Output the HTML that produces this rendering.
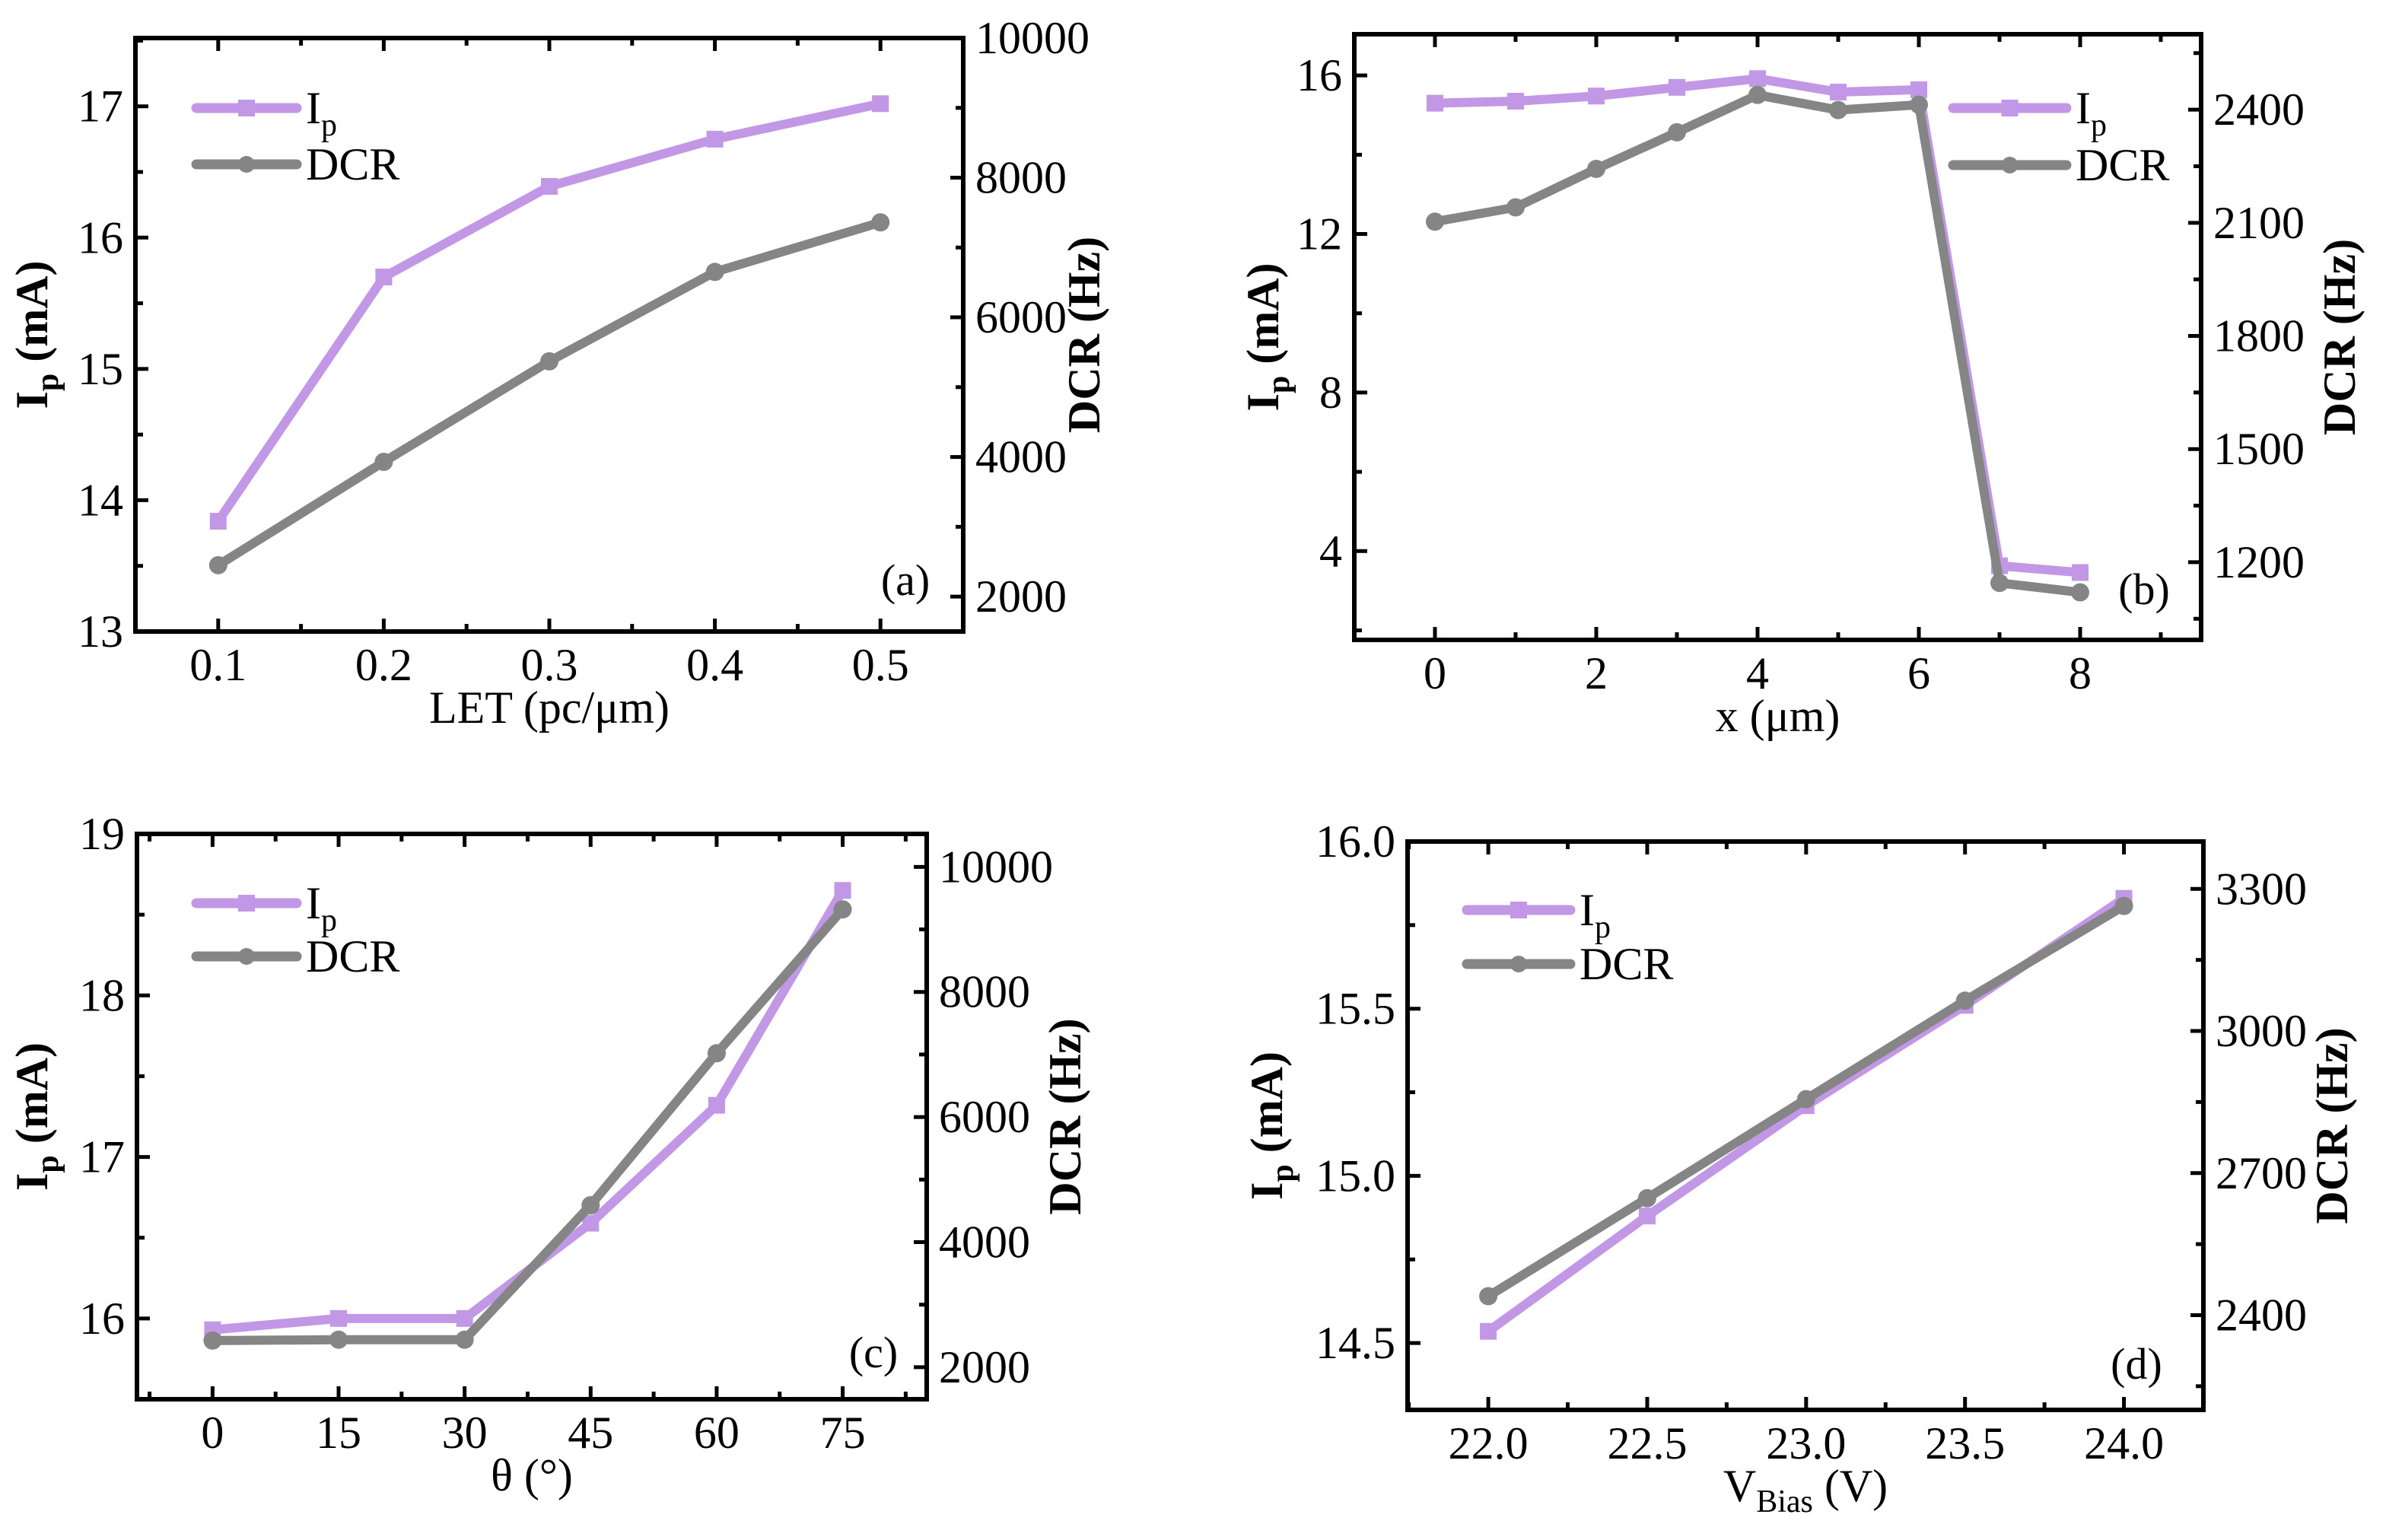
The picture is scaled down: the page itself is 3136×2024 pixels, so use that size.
<!DOCTYPE html>
<html><head><meta charset="utf-8">
<style>
html,body{margin:0;padding:0;background:#fff;}
svg{display:block;font-family:"Liberation Serif","Times New Roman",serif;}
svg text{font-family:"Liberation Serif","Times New Roman",serif;fill:#000;}
</style></head>
<body>
<svg id="fig" width="3136" height="2024" viewBox="0 0 3136 2024" font-family="Liberation Serif, serif" xmlns="http://www.w3.org/2000/svg"></svg>
<script>
// Panel (a)
const aX = [0.1, 0.2, 0.3, 0.4, 0.5];
const aIp = [13.84, 15.70, 16.39, 16.75, 17.02];
const aDCR = [2450, 3930, 5370, 6650, 7360];
const aXTicks = ["0.1","0.2","0.3","0.4","0.5"];
const aLTicks = ["13","14","15","16","17"];
const aRTicks = ["2000","4000","6000","8000","10000"];
// Panel (b)
const bX = [0, 1, 2, 3, 4, 5, 6, 7, 8];
const bIp = [15.30, 15.35, 15.48, 15.70, 15.92, 15.58, 15.64, 3.63, 3.46];
const bDCR = [2103, 2141, 2243, 2340, 2439, 2399, 2413, 1145, 1120];
const bXTicks = ["0","2","4","6","8"];
const bLTicks = ["4","8","12","16"];
const bRTicks = ["1200","1500","1800","2100","2400"];
// Panel (c)
const cX = [0, 15, 30, 45, 60, 75];
const cIp = [15.93, 16.00, 16.00, 16.59, 17.32, 18.65];
const cDCR = [2426, 2440, 2440, 4590, 7020, 9320];
const cXTicks = ["0","15","30","45","60","75"];
const cLTicks = ["16","17","18","19"];
const cRTicks = ["2000","4000","6000","8000","10000"];
// Panel (d)
const dX = [22.0, 22.5, 23.0, 23.5, 24.0];
const dIp = [14.535, 14.88, 15.21, 15.51, 15.83];
const dDCR = [2440, 2647, 2856, 3064, 3264];
const dXTicks = ["22.0","22.5","23.0","23.5","24.0"];
const dLTicks = ["14.5","15.0","15.5","16.0"];
const dRTicks = ["2400","2700","3000","3300"];

const NS = "http://www.w3.org/2000/svg";
const svg = document.getElementById('fig');
const PURPLE = "#c297e6", GRAY = "#858585";
const FF = "Liberation Serif, Times New Roman, serif";

function mk(tag, attrs, parent){
  const e = document.createElementNS(NS, tag);
  for (const k in attrs) e.setAttribute(k, attrs[k]);
  if (tag === 'text') e.setAttribute('font-family', FF);
  (parent||svg).appendChild(e);
  return e;
}

function panel(cfg){
  const g = mk('g', {});
  
  
  const L=cfg.box[0], T=cfg.box[1], R=cfg.box[2], B=cfg.box[3];
  const sx = v => L + (v - cfg.xr[0]) / (cfg.xr[1]-cfg.xr[0]) * (R-L);
  const syL = v => B - (v - cfg.yl[0]) / (cfg.yl[1]-cfg.yl[0]) * (B-T);
  const syR = v => B - (v - cfg.yr[0]) / (cfg.yr[1]-cfg.yr[0]) * (B-T);
  const tk = {stroke:'#000','stroke-width':5};
  for (let v = cfg.xMinor0; v <= cfg.xr[1]+1e-9; v += cfg.xMinor){
    if (v < cfg.xr[0]) continue;
    const isMaj = cfg.xTicks.some(t => Math.abs(parseFloat(t)-v) < 1e-6);
    const len = isMaj ? 17 : 10;
    const x = sx(v);
    mk('line', Object.assign({x1:x,x2:x,y1:B,y2:B-len}, tk), g);
    mk('line', Object.assign({x1:x,x2:x,y1:T,y2:T+len}, tk), g);
  }
  for (let v = cfg.ylMinor0; v <= cfg.yl[1]+1e-9; v += cfg.ylMinor){
    if (v < cfg.yl[0]) continue;
    const isMaj = cfg.lTicks.some(t => Math.abs(parseFloat(t)-v) < 1e-6);
    const len = isMaj ? 17 : 10; const y = syL(v);
    mk('line', Object.assign({x1:L,x2:L+len,y1:y,y2:y}, tk), g);
  }
  for (let v = cfg.yrMinor0; v <= cfg.yr[1]+1e-9; v += cfg.yrMinor){
    if (v < cfg.yr[0]) continue;
    const isMaj = cfg.rTicks.some(t => Math.abs(parseFloat(t)-v) < 1e-6);
    const len = isMaj ? 17 : 10; const y = syR(v);
    mk('line', Object.assign({x1:R,x2:R-len,y1:y,y2:y}, tk), g);
  }
  const frame = mk('rect', {x:L,y:T,width:R-L,height:B-T,fill:'none',stroke:'#000','stroke-width':6}, g);
  
  
  cfg.xTicks.forEach(t => {
    const e = mk('text', {x:sx(parseFloat(t)), y:B+64, 'font-size':60, 'text-anchor':'middle'}, g);
    e.textContent = t;
    
    
  });
  cfg.lTicks.forEach(t => {
    const e = mk('text', {x:L-16, y:syL(parseFloat(t))+20, 'font-size':60, 'text-anchor':'end'}, g);
    e.textContent = t;
    
    
  });
  cfg.rTicks.forEach(t => {
    const e = mk('text', {x:R+16, y:syR(parseFloat(t))+20, 'font-size':60, 'text-anchor':'start'}, g);
    e.textContent = t;
    
    
  });
  const xt = mk('text', {x:(L+R)/2, y:B+120, 'font-size':60, 'text-anchor':'middle'}, g);
  xt.innerHTML = cfg.xTitle;
  
  
  const cy = (T+B)/2;
  const lt = mk('text', {x:0, y:0, 'font-size':60, 'font-weight':'bold', 'text-anchor':'middle',
    transform:`translate(${cfg.lTitleX},${cy}) rotate(-90)`}, g);
  lt.innerHTML = 'I<tspan font-size="42" dy="14">p</tspan><tspan dy="-14"> (mA)</tspan>';
  
  
  const rt = mk('text', {x:0, y:0, 'font-size':60, 'font-weight':'bold', 'text-anchor':'middle',
    transform:`translate(${cfg.rTitleX},${cy}) rotate(-90)`}, g);
  rt.textContent = 'DCR (Hz)';
  
  
  const ipPts = cfg.x.map((v,i)=>[sx(v), syL(cfg.ip[i])]);
  const dcPts = cfg.x.map((v,i)=>[sx(v), syR(cfg.dcr[i])]);
  const ipLine = mk('polyline', {points: ipPts.map(p=>p.join(',')).join(' '), fill:'none', stroke:PURPLE, 'stroke-width':12, 'stroke-linejoin':'round'}, g);
  
  
  ipPts.forEach(p => {
    const m = mk('rect', {x:p[0]-11, y:p[1]-11, width:22, height:22, fill:PURPLE}, g);
    
    
  });
  const dcLine = mk('polyline', {points: dcPts.map(p=>p.join(',')).join(' '), fill:'none', stroke:GRAY, 'stroke-width':12, 'stroke-linejoin':'round'}, g);
  
  
  dcPts.forEach(p => {
    const m = mk('circle', {cx:p[0], cy:p[1], r:12, fill:GRAY}, g);
    
    
  });
  const lg = mk('g', {}, g);
  
  
  const [lx1, lx2, ly1, ly2] = cfg.leg;
  mk('line', {x1:lx1, x2:lx2, y1:ly1, y2:ly1, stroke:PURPLE, 'stroke-width':13, 'stroke-linecap':'round'}, lg);
  mk('rect', {x:(lx1+lx2)/2-11, y:ly1-11, width:22, height:22, fill:PURPLE}, lg);
  const t1 = mk('text', {x:lx2+12, y:ly1+20, 'font-size':60}, lg);
  t1.innerHTML = 'I<tspan font-size="42" dy="16">p</tspan>';
  
  
  mk('line', {x1:lx1, x2:lx2, y1:ly2, y2:ly2, stroke:GRAY, 'stroke-width':13, 'stroke-linecap':'round'}, lg);
  mk('circle', {cx:(lx1+lx2)/2, cy:ly2, r:11, fill:GRAY}, lg);
  const t2 = mk('text', {x:lx2+12, y:ly2+20, 'font-size':60}, lg);
  t2.textContent = 'DCR';
  
  
  const pl = mk('text', {x:cfg.lab[0], y:cfg.lab[1], 'font-size':58, 'text-anchor':'middle'}, g);
  pl.textContent = '(' + cfg.id + ')';
  
  
}

panel({id:'a', box:[178,50,1266,830], xr:[0.05,0.55], yl:[13,17.52], yr:[1500,10000],
  x:aX, ip:aIp, dcr:aDCR, xTicks:aXTicks, lTicks:aLTicks, rTicks:aRTicks,
  xMinor0:0.05, xMinor:0.05, ylMinor0:13, ylMinor:0.5, yrMinor0:2000, yrMinor:1000,
  xTitle:'LET (pc/μm)', lTitleX:62, rTitleX:1445, leg:[258,390,142,216], lab:[1190,782]});
panel({id:'b', box:[1780,45,2893,841], xr:[-1,9.5], yl:[1.76,17.04], yr:[994,2600],
  x:bX, ip:bIp, dcr:bDCR, xTicks:bXTicks, lTicks:bLTicks, rTicks:bRTicks,
  xMinor0:0, xMinor:1, ylMinor0:2, ylMinor:2, yrMinor0:1050, yrMinor:150,
  xTitle:'x (μm)', lTitleX:1680, rTitleX:3095, leg:[2567,2716,142,217], lab:[2818,794]});
panel({id:'c', box:[180,1096,1218,1839], xr:[-9,85], yl:[15.5,19], yr:[1488,10527],
  x:cX, ip:cIp, dcr:cDCR, xTicks:cXTicks, lTicks:cLTicks, rTicks:cRTicks,
  xMinor0:-7.5, xMinor:7.5, ylMinor0:15.5, ylMinor:0.5, yrMinor0:2000, yrMinor:1000,
  xTitle:'θ (°)', lTitleX:62, rTitleX:1420, leg:[258,390,1187,1257], lab:[1148,1797]});
panel({id:'d', box:[1850,1106,2896,1853], xr:[21.746,24.25], yl:[14.3,16.0], yr:[2200,3400],
  x:dX, ip:dIp, dcr:dDCR, xTicks:dXTicks, lTicks:dLTicks, rTicks:dRTicks,
  xMinor0:21.75, xMinor:0.25, ylMinor0:14.5, ylMinor:0.25, yrMinor0:2250, yrMinor:150,
  xTitle:'V<tspan font-size="42" dy="14">Bias</tspan><tspan dy="-14"> (V)</tspan>', lTitleX:1685, rTitleX:3085, leg:[1928,2064,1196,1267], lab:[2808,1812]});
</script>
</body></html>
